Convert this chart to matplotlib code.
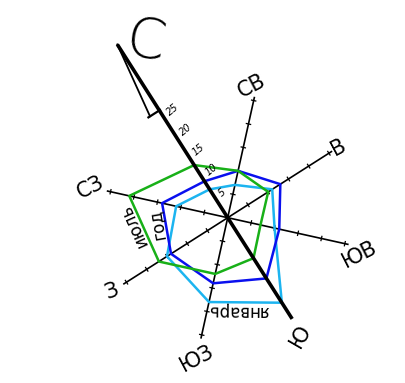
import numpy as np
import matplotlib
matplotlib.use("Agg")
import matplotlib.pyplot as plt

# === Data: wind frequency (%) by direction ===
directions = ["С", "СВ", "В", "ЮВ", "Ю", "ЮЗ", "З", "СЗ"]
january = [7, 7, 11, 10, 21, 18, 15, 11]
year = [9, 10, 13, 11, 15, 14, 14, 14]
july = [13, 10, 10, 7, 10, 12, 17, 21]
series_names = ["январь", "год", "июль"]
tick_values = [5, 10, 15, 20, 25]

# === Layout of the (rotated) rose, in image pixels ===
cx, cy = 227.7, 217.7
px_per_unit = 4.8
north_angle = 122.5
axis_len = [42.8, 25.8, 25.8, 25.8, 25.0, 25.8, 25.8, 25.8]
label_r = [40.0, 27.9, 27.4, 28.5, 29.0, 29.9, 28.5, 29.2]
label_perp = [5.2, -1.1, 0.0, 1.4, 0.6, 0.0, 0.0, 0.0]
label_rot = [-10, 28, 28, 27, 60, 28, 20, 27]


def to_xy(r, k, perp=0.0):
    a = np.radians(north_angle - 45 * k)
    ux, uy = np.cos(a), -np.sin(a)
    px, py = np.cos(a - np.pi / 2), -np.sin(a - np.pi / 2)
    return (cx + px_per_unit * (r * ux + perp * px),
            cy + px_per_unit * (r * uy + perp * py))


fig = plt.figure(figsize=(4.05, 3.83), dpi=100)
ax = fig.add_axes([0, 0, 1, 1])
ax.set_xlim(0, 405)
ax.set_ylim(383, 0)
ax.set_aspect("equal")
ax.axis("off")

# === Axes with ticks ===
for k in range(8):
    x0, y0 = to_xy(0, k)
    x1, y1 = to_xy(axis_len[k], k)
    thick = k in (0, 4)
    ax.plot([x0, x1], [y0, y1], color="black", lw=2.6 if thick else 1.2,
            solid_capstyle="butt", zorder=2 if not thick else 4)
    if not thick:
        for v in tick_values:
            ta = to_xy(v, k, -0.45)
            tb = to_xy(v, k, 0.45)
            ax.plot([ta[0], tb[0]], [ta[1], tb[1]], color="black", lw=0.9, zorder=2)

# north arrow
tip = to_xy(axis_len[0], 0)
p1 = to_xy(26.5, 0, -2.3)
ax.plot([tip[0], p1[0]], [tip[1], p1[1]], color="black", lw=1.3, zorder=4)
c1 = to_xy(26.5, 0, -2.7)
c2 = to_xy(26.5, 0, 0.15)
ax.plot([c1[0], c2[0]], [c1[1], c2[1]], color="black", lw=1.6, zorder=4)

# tick labels on the north axis
for v in tick_values:
    tx, ty = to_xy(v, 0, 1.2)
    ax.text(tx, ty, str(v), fontsize=7, style="italic", rotation=40,
            rotation_mode="anchor", ha="left", va="center", zorder=5)

# direction labels
for k, name in enumerate(directions):
    lx, ly = to_xy(label_r[k], k, label_perp[k])
    if k == 0:
        ax.text(lx, ly, name, fontsize=40, rotation=label_rot[k],
                family=["Liberation Sans Narrow", "DejaVu Sans"],
                fontweight="light", ha="center", va="center")
    else:
        ax.text(lx, ly, name, fontsize=15, rotation=label_rot[k],
                ha="center", va="center")

# === Polygons ===
colors = ["#1cb4f0", "#0a10ee", "#18b018"]
for vals, col, name in zip([january, year, july], colors, series_names):
    pts = [to_xy(v, k) for k, v in enumerate(vals)]
    xs = [p[0] for p in pts] + [pts[0][0]]
    ys = [p[1] for p in pts] + [pts[0][1]]
    ax.plot(xs, ys, color=col, lw=1.8, zorder=3)

# series labels along an edge (Ю->ЮЗ for январь, З->СЗ for год / июль)
label_edges = [(4, 5), (6, 7), (6, 7)]
for vals, name, (ka, kb) in zip([january, year, july], series_names, label_edges):
    xa, ya = to_xy(vals[ka], ka)
    xb, yb = to_xy(vals[kb], kb)
    dx, dy = xb - xa, yb - ya
    ln = np.hypot(dx, dy)
    mx, my = xa + 0.6 * dx, ya + 0.6 * dy
    nx, ny = dy / ln, -dx / ln
    if (mx + nx - cx) ** 2 + (my + ny - cy) ** 2 < (mx - cx) ** 2 + (my - cy) ** 2:
        nx, ny = -nx, -ny
    ang = np.degrees(np.arctan2(-dy, dx))
    ax.text(mx + 8 * nx, my + 8 * ny, name, fontsize=12, rotation=ang,
            rotation_mode="anchor", ha="center", va="center", zorder=5)

plt.savefig("out.png", dpi=100)
plt.close()
